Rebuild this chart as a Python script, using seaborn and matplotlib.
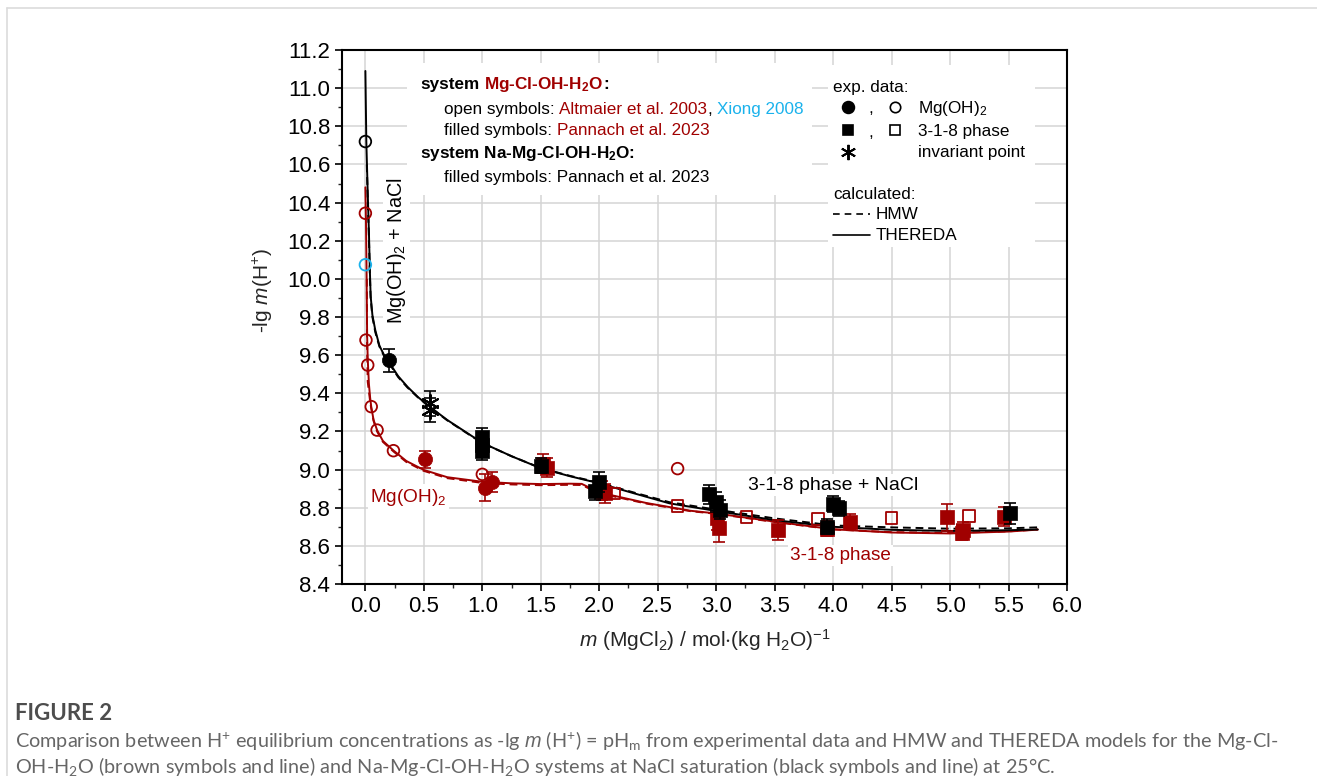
import numpy as np
import pandas as pd
import matplotlib
matplotlib.use("Agg")
import matplotlib.pyplot as plt
from matplotlib.ticker import MultipleLocator, FormatStrFormatter
from matplotlib.patches import Rectangle
from matplotlib.lines import Line2D
import seaborn as sns

# ---------------- data ----------------
# calculated curves, Na-Mg-Cl-OH-H2O (NaCl saturated) - black
blk_thereda_x = [0.0, 0.008, 0.02, 0.03, 0.038, 0.045, 0.06, 0.085, 0.12, 0.16, 0.2, 0.28, 0.36, 0.45,
                 0.55, 0.7, 0.85, 1.0, 1.25, 1.5, 1.75, 2.0, 2.3, 2.6, 3.0, 3.5, 4.0, 4.5, 5.0, 5.5, 5.75]
blk_thereda_y = [11.09, 10.72, 10.45, 10.25, 10.05, 9.91, 9.81, 9.73, 9.65, 9.60, 9.565, 9.49, 9.434, 9.38,
                 9.33, 9.26, 9.20, 9.14, 9.07, 9.007, 8.965, 8.928, 8.875, 8.823, 8.783, 8.735, 8.70, 8.684,
                 8.678, 8.682, 8.686]
blk_hmw_x = [0.012, 0.02, 0.03, 0.038, 0.045, 0.06, 0.085, 0.12, 0.16, 0.2, 0.28, 0.36, 0.45,
             0.55, 0.7, 0.85, 1.0, 1.25, 1.5, 1.75, 2.0, 2.3, 2.6, 3.0, 3.5, 4.0, 4.5, 5.0, 5.5, 5.75]
blk_hmw_y = [10.60, 10.42, 10.22, 10.03, 9.90, 9.80, 9.72, 9.645, 9.595, 9.56, 9.485, 9.43, 9.378,
             9.328, 9.258, 9.198, 9.139, 9.07, 9.008, 8.967, 8.931, 8.879, 8.829, 8.79, 8.744, 8.707,
             8.697, 8.690, 8.692, 8.697]

# calculated curves, Mg-Cl-OH-H2O - brown
red_thereda_x = [0.0, 0.005, 0.01, 0.015, 0.02, 0.03, 0.04, 0.05, 0.07, 0.1, 0.15, 0.24, 0.35, 0.5, 0.7,
                 1.0, 1.25, 1.5, 1.75, 1.85, 2.0, 2.4, 2.78, 3.0, 3.5, 4.0, 4.5, 5.0, 5.5, 5.75]
red_thereda_y = [10.48, 10.30, 10.05, 9.70, 9.58, 9.45, 9.38, 9.33, 9.26, 9.207, 9.15, 9.10, 9.045, 8.998,
                 8.96, 8.936, 8.928, 8.924, 8.926, 8.925, 8.88, 8.825, 8.784, 8.77, 8.727, 8.687, 8.67,
                 8.665, 8.675, 8.685]
red_hmw_x = [0.012, 0.015, 0.02, 0.03, 0.04, 0.05, 0.07, 0.1, 0.15, 0.24, 0.35, 0.5, 0.7,
             1.0, 1.25, 1.5, 1.75, 1.85, 2.0, 2.4, 2.78, 3.0, 3.5, 4.0, 4.5, 5.0, 5.5, 5.75]
red_hmw_y = [10.0, 9.62, 9.46, 9.41, 9.36, 9.32, 9.255, 9.20, 9.145, 9.095, 9.04, 8.993,
             8.955, 8.930, 8.922, 8.918, 8.920, 8.919, 8.876, 8.822, 8.782, 8.768, 8.725, 8.686,
             8.672, 8.668, 8.676, 8.686]

# experimental data, black (Na-Mg-Cl-OH-H2O, Pannach et al. 2023)
blk_open_circ_x = [0.0]
blk_open_circ_y = [10.72]
blk_circ_x = [0.2]
blk_circ_y = [9.574]
blk_circ_err = [0.06]
blk_inv_x = [0.55, 0.55]
blk_inv_y = [9.347, 9.312]
blk_inv_err = [0.065, 0.065]
blk_sq_x = [1.0, 1.0, 1.0, 1.5, 1.995, 1.96, 2.94, 3.0, 3.03, 3.95, 4.0, 4.05, 5.51]
blk_sq_y = [9.17, 9.13, 9.10, 9.02, 8.935, 8.89, 8.87, 8.83, 8.79, 8.70, 8.82, 8.797, 8.77]
blk_sq_err = [0.05, 0.05, 0.05, 0.04, 0.05, 0.05, 0.05, 0.05, 0.05, 0.04, 0.04, 0.04, 0.055]

# experimental data, brown (Mg-Cl-OH-H2O)
red_open_circ_x = [0.0, 0.005, 0.02, 0.05, 0.1, 0.24, 1.0, 2.67]      # Altmaier et al. 2003
red_open_circ_y = [10.344, 9.679, 9.548, 9.33, 9.207, 9.099, 8.975, 9.005]
blue_open_circ_x = [0.0]                                               # Xiong 2008
blue_open_circ_y = [10.074]
red_circ_x = [0.51, 1.02, 1.08]                                        # Pannach et al. 2023
red_circ_y = [9.055, 8.905, 8.935]
red_circ_err = [0.045, 0.07, 0.05]
red_sq_x = [1.52, 1.55, 2.02, 2.05, 3.01, 3.02, 3.53, 3.95, 4.14, 4.97, 5.11, 5.10, 5.46]
red_sq_y = [9.03, 9.01, 8.89, 8.875, 8.744, 8.692, 8.683, 8.69, 8.727, 8.749, 8.683, 8.67, 8.753]
red_sq_err = [0.05, 0.05, 0.05, 0.05, 0.06, 0.07, 0.05, 0.04, 0.04, 0.07, 0.04, 0.04, 0.05]
red_open_sq_x = [2.13, 2.67, 3.26, 3.87, 4.50, 5.16]
red_open_sq_y = [8.875, 8.808, 8.753, 8.739, 8.745, 8.755]

x_ticks = [0.0, 0.5, 1.0, 1.5, 2.0, 2.5, 3.0, 3.5, 4.0, 4.5, 5.0, 5.5, 6.0]
y_ticks = [8.4, 8.6, 8.8, 9.0, 9.2, 9.4, 9.6, 9.8, 10.0, 10.2, 10.4, 10.6, 10.8, 11.0, 11.2]

# ---------------- style ----------------
sns.set_theme(style="ticks")
plt.rcParams['font.family'] = ['Liberation Sans', 'DejaVu Sans']
plt.rcParams['mathtext.fontset'] = 'custom'
plt.rcParams['mathtext.rm'] = 'Liberation Sans'
plt.rcParams['mathtext.it'] = 'Liberation Sans:italic'
plt.rcParams['mathtext.bf'] = 'Liberation Sans:bold'
plt.rcParams['mathtext.default'] = 'regular'

RED = '#A00000'
BLUE = '#1AB2EC'
BLK = '#000000'

fig = plt.figure(figsize=(13.17, 7.76), dpi=100)
ax = fig.add_axes([342 / 1317, 1 - 584 / 776, 725 / 1317, 534 / 776])
ax.set_axisbelow(True)

# curves
def curve(xs, ys, color, dashed):
    df = pd.DataFrame({'x': xs, 'y': ys})
    sns.lineplot(data=df, x='x', y='y', ax=ax, color=color, lw=1.4, sort=False, estimator=None,
                 linestyle=(0, (4, 2.5)) if dashed else '-', zorder=2)

curve(red_hmw_x, red_hmw_y, RED, True)
curve(red_thereda_x, red_thereda_y, RED, False)
curve(blk_hmw_x, blk_hmw_y, BLK, True)
curve(blk_thereda_x, blk_thereda_y, BLK, False)

# error bars
def ebar(xs, ys, errs, color, z=3):
    ax.errorbar(xs, ys, yerr=errs, fmt='none', ecolor=color, elinewidth=1.2, capsize=4.5,
                capthick=1.2, zorder=z)

def pts(xs, ys, color, marker, size, filled=True, z=4, lw=1.3):
    df = pd.DataFrame({'x': xs, 'y': ys})
    if filled:
        sns.scatterplot(data=df, x='x', y='y', ax=ax, marker=marker, s=size, facecolor=color,
                        edgecolor=color, linewidth=0.5, zorder=z)
    else:
        sns.scatterplot(data=df, x='x', y='y', ax=ax, marker=marker, s=size, facecolor='none',
                        edgecolor=color, linewidth=lw, zorder=z)

ebar(red_circ_x, red_circ_y, red_circ_err, RED)
ebar(red_sq_x, red_sq_y, red_sq_err, RED)
pts(red_open_circ_x, red_open_circ_y, RED, 'o', 70, filled=False)
pts(blue_open_circ_x, blue_open_circ_y, BLUE, 'o', 70, filled=False)
pts(red_open_sq_x, red_open_sq_y, RED, 's', 72, filled=False)
pts(red_circ_x, red_circ_y, RED, 'o', 105)
pts(red_sq_x, red_sq_y, RED, 's', 92)

ebar(blk_circ_x, blk_circ_y, blk_circ_err, BLK, 5)
ebar(blk_inv_x, blk_inv_y, blk_inv_err, BLK, 5)
ebar(blk_sq_x, blk_sq_y, blk_sq_err, BLK, 5)
pts(blk_open_circ_x, blk_open_circ_y, BLK, 'o', 70, filled=False, z=6)
pts(blk_circ_x, blk_circ_y, BLK, 'o', 105, z=6)
pts(blk_sq_x, blk_sq_y, BLK, 's', 92, z=6)
df_inv = pd.DataFrame({'x': blk_inv_x, 'y': blk_inv_y})
sns.scatterplot(data=df_inv, x='x', y='y', ax=ax, marker=(6, 2, 0), s=150, color=BLK,
                edgecolor=BLK, linewidth=1.5, zorder=6)

# axes
ax.set_xlim(-0.2, 6.0)
ax.set_ylim(8.4, 11.2)
ax.set_xticks(x_ticks)
ax.set_yticks(y_ticks)
ax.xaxis.set_major_formatter(FormatStrFormatter('%.1f'))
ax.yaxis.set_major_formatter(FormatStrFormatter('%.1f'))
ax.xaxis.set_minor_locator(MultipleLocator(0.25))
ax.yaxis.set_minor_locator(MultipleLocator(0.1))
ax.tick_params(which='major', direction='out', length=5, width=1.2, labelsize=16, colors='black')
ax.tick_params(which='minor', direction='out', length=3, width=1.0)
ax.grid(True, which='major', color='#d4d4d4', lw=1.1)
for sp in ax.spines.values():
    sp.set_visible(True)
    sp.set_linewidth(1.5)
    sp.set_color('black')

ax.set_xlabel(r'$\mathit{m}$ (MgCl$_2$) / mol$\cdot$(kg H$_2$O)$^{-1}$', fontsize=15)
ax.set_ylabel(r'-lg $\mathit{m}$(H$^{+}$)', fontsize=15)
ax.xaxis.set_label_coords(0.5007, -0.08)
ax.yaxis.set_label_coords(-0.092, 0.55)

# in-plot labels
bb = dict(facecolor='white', edgecolor='none', pad=1.5)
ax.text(0.265, 10.146, r'Mg(OH)$_2$ + NaCl', rotation=90, ha='center', va='center', fontsize=14.3,
        color=BLK, bbox=bb, zorder=3)
ax.text(0.37, 8.856, r'Mg(OH)$_2$', ha='center', va='center', fontsize=13.7, color=RED, bbox=bb,
        zorder=3)
ax.text(4.0, 8.919, '3-1-8 phase + NaCl', ha='center', va='center', fontsize=14, color=BLK,
        bbox=bb, zorder=3)
ax.text(4.06, 8.549, '3-1-8 phase', ha='center', va='center', fontsize=13.6, color=RED, bbox=bb,
        zorder=3)

# legend boxes
def px2ax(px, py):
    return (px - 342) / 725, (584 - py) / 534

x0, y0 = px2ax(407, 195)
x1, y1 = px2ax(812, 63)
ax.add_patch(Rectangle((x0, y0), x1 - x0, y1 - y0, transform=ax.transAxes, facecolor='white',
                       edgecolor='none', zorder=1))
x0, y0 = px2ax(828, 247)
x1, y1 = px2ax(1035, 65)
ax.add_patch(Rectangle((x0, y0), x1 - x0, y1 - y0, transform=ax.transAxes, facecolor='white',
                       edgecolor='none', zorder=1))

FS = 12.3

def rich(px, py, parts, weight='normal'):
    x, y = px2ax(px, py)
    prev = None
    for s, c, gap in parts:
        if prev is None:
            t = ax.text(x, y, s, color=c, transform=ax.transAxes, ha='left', va='baseline',
                        fontsize=FS, fontweight=weight, zorder=7)
        else:
            t = ax.annotate(s, xy=(1, y), xycoords=(prev, 'axes fraction'), xytext=(gap, 0),
                            textcoords='offset points', color=c, ha='left', va='baseline',
                            fontsize=FS, fontweight=weight, zorder=7)
        prev = t

sp = 0.278 * FS
rich(420, 89, [('system', BLK, 0), ('Mg-Cl-OH-H$_2$O', RED, sp), (':', BLK, 0)], weight='bold')
rich(444, 114, [('open symbols:', BLK, 0), ('Altmaier et al. 2003', RED, sp), (',', BLK, 0),
                ('Xiong 2008', BLUE, sp)])
rich(444, 135, [('filled symbols:', BLK, 0), ('Pannach et al. 2023', RED, sp)])
rich(420, 158, [('system Na-Mg-Cl-OH-H$_2$O:', BLK, 0)], weight='bold')
rich(444, 182, [('filled symbols: Pannach et al. 2023', BLK, 0)])

# right legend block
def atext(px, py, s, **kw):
    x, y = px2ax(px, py)
    ax.text(x, y, s, transform=ax.transAxes, fontsize=FS, color=BLK, ha='left', va='baseline',
            zorder=7, **kw)

def amark(px, py, marker, ms, filled=True, mew=1.2):
    x, y = px2ax(px, py)
    ax.plot([x], [y], transform=ax.transAxes, marker=marker, ms=ms, color=BLK,
            mfc=BLK if filled else 'none', mec=BLK, mew=mew, ls='none', zorder=7, clip_on=False)

atext(833, 92, 'exp. data:')
amark(848, 107, 'o', 8.5)
atext(868, 113, ',')
amark(895, 107, 'o', 7.5, filled=False)
atext(918, 113, r'Mg(OH)$_2$')
amark(848, 130, 's', 7.5)
atext(868, 137, ',')
amark(895, 130, 's', 7, filled=False)
atext(918, 136, '3-1-8 phase')
amark(848, 152, (6, 2, 0), 11, mew=1.4)
atext(918, 157, 'invariant point')
atext(833, 199, 'calculated:')
xa, ya = px2ax(833, 214)
xb, _ = px2ax(870, 214)
ax.add_line(Line2D([xa, xb], [ya, ya], transform=ax.transAxes, color=BLK, lw=1.2,
                   linestyle=(0, (4, 3)), zorder=7))
atext(876, 219, 'HMW')
xa, ya = px2ax(833, 235)
ax.add_line(Line2D([xa, xb], [ya, ya], transform=ax.transAxes, color=BLK, lw=1.2, zorder=7))
atext(876, 240, 'THEREDA')

# card frame
fig.add_artist(Line2D([7 / 1317, 7 / 1317], [0, 1 - 8 / 776], transform=fig.transFigure,
                      color='#dcdcdc', lw=1.2))
fig.add_artist(Line2D([7 / 1317, 1.0], [1 - 8 / 776, 1 - 8 / 776], transform=fig.transFigure,
                      color='#dcdcdc', lw=1.2))

# caption
cap_font = ['Lato', 'DejaVu Sans']
fig.text(15 / 1317, 1 - 714 / 776, 'FIGURE 2', fontsize=16, color='#4d4d4d', fontweight='bold',
         family=cap_font, va='center', ha='left')
fig.text(15 / 1317, 1 - 741 / 776,
         r'Comparison between H$^{+}$ equilibrium concentrations as -lg $\mathit{m}$ (H$^{+}$) = pH$_{m}$ '
         r'from experimental data and HMW and THEREDA models for the Mg-Cl-',
         fontsize=14.3, color='#666666', family=cap_font, va='center', ha='left')
fig.text(15 / 1317, 1 - 767 / 776,
         r'OH-H$_2$O (brown symbols and line) and Na-Mg-Cl-OH-H$_2$O systems at NaCl saturation '
         r'(black symbols and line) at 25°C.',
         fontsize=14.3, color='#666666', family=cap_font, va='center', ha='left')

fig.savefig('out.png', dpi=100)
